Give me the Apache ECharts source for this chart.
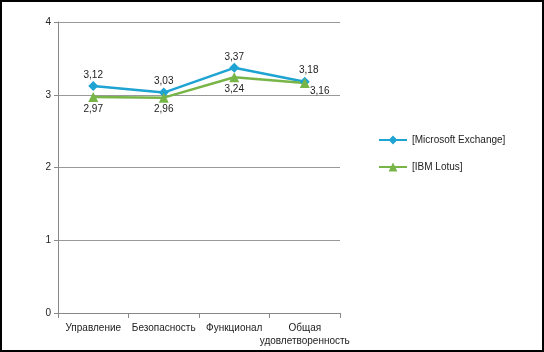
<!DOCTYPE html>
<html>
<head>
<meta charset="utf-8">
<script src="https://cdn.jsdelivr.net/npm/echarts@6/dist/echarts.min.js"></script>
<style>
  html, body { margin: 0; padding: 0; background: #fff; }
  #main {
    width: 544px;
    height: 352px;
    box-sizing: border-box;
    border: 2px solid #000;
  }
</style>
</head>
<body>
<div id="main"></div>
<script>
// данные графика
const categories = ["Управление", "Безопасность", "Функционал", "Общая\nудовлетворенность"];
const exchangeValues = [3.12, 3.03, 3.37, 3.18];
const lotusValues = [2.97, 2.96, 3.24, 3.16];
const seriesNames = ["[Microsoft Exchange]", "[IBM Lotus]"];

const chart = echarts.init(document.getElementById("main"));
const fmt = (p) => String(p.value.toFixed(2)).replace(".", ",");

chart.setOption({
  animation: false,
  textStyle: { fontFamily: "Liberation Sans, Arial, sans-serif" },
  legend: {
    orient: "vertical",
    left: 376,
    top: 133,
    padding: 0,
    itemGap: 17,
    itemWidth: 28,
    itemHeight: 11,
    textStyle: { fontSize: 10, color: "#222" },
    data: seriesNames,
  },
  grid: {
    left: 56,
    top: 20,
    right: 202,
    bottom: 37,
  },
  xAxis: {
    type: "category",
    data: categories,
    axisLine: { lineStyle: { color: "#888" } },
    axisTick: { show: true, length: 5, lineStyle: { color: "#888" } },
    axisLabel: { interval: 0, color: "#222", fontSize: 10, margin: 9, lineHeight: 13 },
  },
  yAxis: {
    type: "value",
    min: 0,
    max: 4,
    interval: 1,
    axisLine: { show: true, lineStyle: { color: "#888" } },
    axisTick: { show: true, length: 4, lineStyle: { color: "#888" } },
    axisLabel: { color: "#222", fontSize: 10, margin: 7 },
    splitLine: { lineStyle: { color: "#999" } },
  },
  series: [
    {
      name: seriesNames[0],
      type: "line",
      data: exchangeValues,
      symbol: "diamond",
      symbolSize: 10,
      color: "#1ea3d2",
      lineStyle: { width: 2.5 },
      label: { show: true, position: "top", formatter: fmt, color: "#222", fontSize: 10, distance: 1 },
      labelLayout: function (params) {
        if (params.dataIndex === 3) {
          return { dx: 4 };
        }
        return {};
      },
    },
    {
      name: seriesNames[1],
      type: "line",
      data: lotusValues,
      symbol: "triangle",
      symbolSize: 10,
      color: "#78b548",
      lineStyle: { width: 2.5 },
      label: {
        show: true,
        position: "bottom",
        formatter: fmt,
        color: "#222",
        fontSize: 10,
        distance: 2,
      },
      labelLayout: function (params) {
        // последняя подпись смещена вправо, как в оригинале
        if (params.dataIndex === 3) {
          return { dx: 15, dy: -4 };
        }
        return {};
      },
    },
  ],
});
</script>
</body>
</html>
